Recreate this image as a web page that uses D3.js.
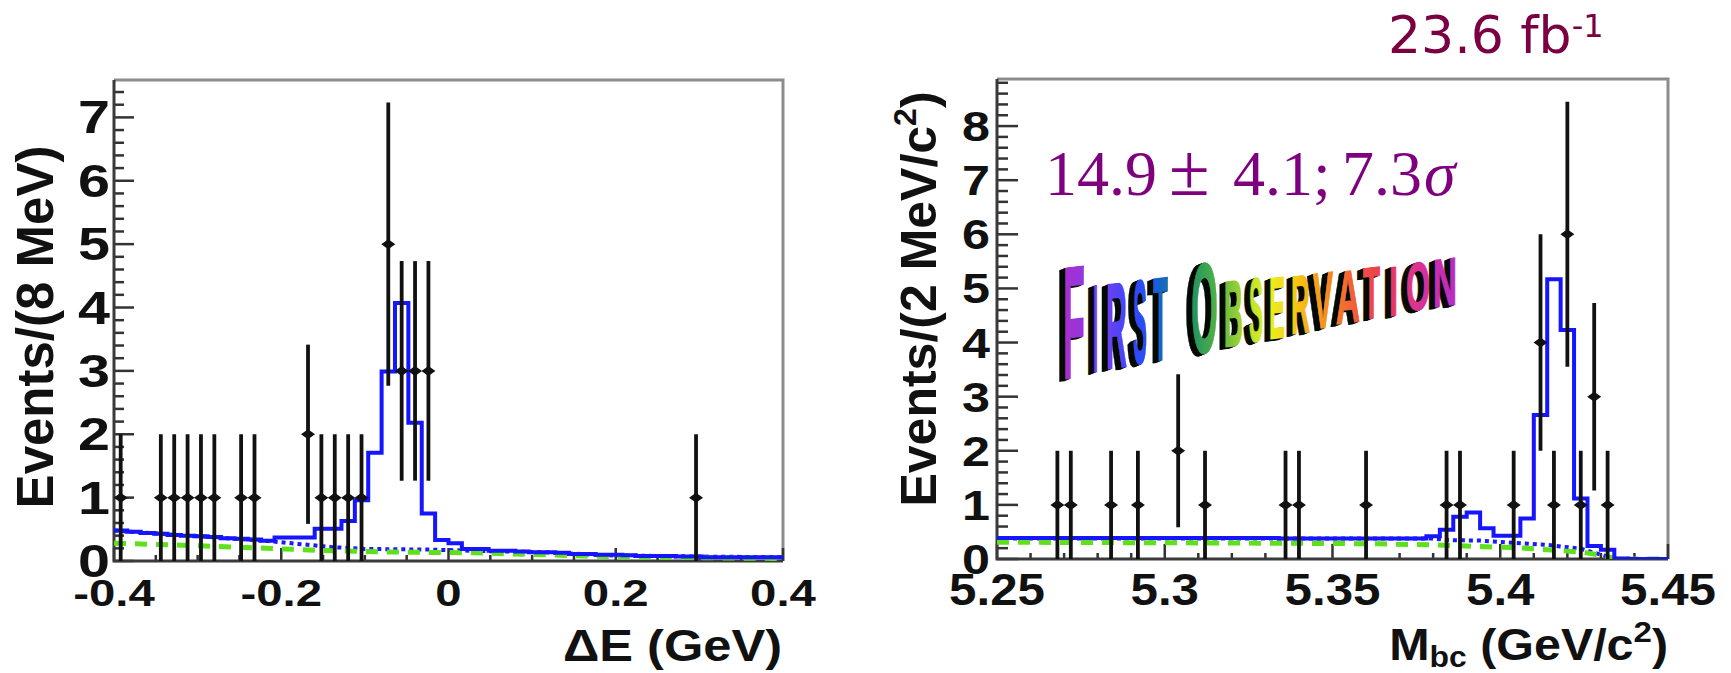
<!DOCTYPE html>
<html>
<head>
<meta charset="utf-8">
<script src="https://cdn.jsdelivr.net/npm/d3@7"></script>
<style>
  body { margin: 0; background: #fff; }
  svg { display: block; }
</style>
</head>
<body>
<svg id="chart" width="1731" height="673"></svg>
<script>
// ---------------- ΔE distribution (16 MeV binning) ----------------
const deBinLow = -0.4, deBinWidth = 0.016;
const deCenters = [-0.392, -0.344, -0.328, -0.312, -0.296, -0.280, -0.248, -0.232,
                   -0.168, -0.152, -0.136, -0.120, -0.104, -0.072, -0.056, -0.040, -0.024, 0.296];
const deCounts  = [1, 1, 1, 1, 1, 1, 1, 1, 2, 1, 1, 1, 1, 5, 3, 3, 3, 1];
// total fit, one value per bin
const deFit = [0.48, 0.46, 0.44, 0.43, 0.41, 0.40, 0.39, 0.38, 0.36, 0.35,
               0.34, 0.32, 0.37, 0.37, 0.37, 0.51, 0.51, 0.63, 0.96, 1.71,
               2.99, 4.07, 2.18, 0.75, 0.33, 0.28, 0.19, 0.19, 0.16, 0.16,
               0.15, 0.14, 0.14, 0.13, 0.11, 0.11, 0.10, 0.10, 0.09, 0.08,
               0.08, 0.08, 0.07, 0.07, 0.06, 0.06, 0.06, 0.06, 0.06, 0.06];
// total background (dotted) and continuum (dashed)
const deBkgX  = [-0.4, -0.3, -0.22, -0.18, -0.14, -0.10, -0.02, 0.03, 0.11, 0.19, 0.30, 0.40];
const deBkgY  = [0.48, 0.39, 0.32, 0.27, 0.22, 0.19, 0.18, 0.16, 0.14, 0.09, 0.07, 0.06];
const deContX = [-0.4, -0.297, -0.217, -0.138, -0.058, 0.029, 0.189, 0.388, 0.4];
const deContY = [0.28, 0.24, 0.20, 0.16, 0.14, 0.13, 0.07, 0.04, 0.04];
const deTicks = [-0.4, -0.2, 0, 0.2, 0.4];
const deTickLabels = ["-0.4", "-0.2", "0", "0.2", "0.4"];

// ---------------- Mbc distribution (4 MeV/c^2 binning) ----------------
const mbcBinLow = 5.25, mbcBinWidth = 0.004;
const mbcCenters = [5.268, 5.272, 5.284, 5.292, 5.304, 5.312, 5.336, 5.340, 5.360,
                    5.384, 5.388, 5.404, 5.412, 5.416, 5.420, 5.424, 5.428, 5.432];
const mbcCounts  = [1, 1, 1, 1, 2, 1, 1, 1, 1, 1, 1, 1, 4, 1, 6, 1, 3, 1];
const mbcFit = [0.39, 0.39, 0.39, 0.39, 0.39, 0.39, 0.39, 0.39, 0.39, 0.39,
                0.39, 0.39, 0.39, 0.39, 0.39, 0.39, 0.39, 0.39, 0.39, 0.39,
                0.39, 0.38, 0.38, 0.38, 0.38, 0.38, 0.38, 0.38, 0.38, 0.38,
                0.38, 0.38, 0.42, 0.54, 0.78, 0.86, 0.57, 0.43, 0.43, 0.75,
                2.66, 5.17, 4.23, 1.12, 0.24, 0.17, 0.01, 0.0, 0.0, 0.0];
const mbcBkgX  = [5.25, 5.38, 5.384, 5.394, 5.404, 5.414, 5.424, 5.430, 5.434, 5.436, 5.45];
const mbcBkgY  = [0.38, 0.38, 0.35, 0.34, 0.30, 0.26, 0.19, 0.08, 0.01, 0.0, 0.0];
const mbcContX = [5.25, 5.30, 5.34, 5.364, 5.38, 5.394, 5.405, 5.414, 5.424, 5.430, 5.434, 5.436, 5.45];
const mbcContY = [0.31, 0.30, 0.29, 0.28, 0.26, 0.23, 0.21, 0.17, 0.13, 0.07, 0.01, 0.0, 0.0];
const mbcTicks = [5.25, 5.30, 5.35, 5.40, 5.45];
const mbcTickLabels = ["5.25", "5.3", "5.35", "5.4", "5.45"];

const svg = d3.select("#chart");
const SANS = "'Liberation Sans', Arial, Helvetica, sans-serif";

function drawPanel(p) {
  const x = d3.scaleLinear().domain(p.xDomain).range([p.left, p.right]);
  const y = d3.scaleLinear().domain(p.yDomain).range([p.bottom, p.top]);
  const g = svg.append("g");
  const clipId = "clip" + p.id;
  g.append("clipPath").attr("id", clipId).append("rect")
    .attr("x", p.left).attr("y", p.top)
    .attr("width", p.right - p.left).attr("height", p.bottom - p.top);

  // frame (top and right in grey)
  g.append("path")
    .attr("d", `M${p.left},${p.top}H${p.right}V${p.bottom}`)
    .attr("fill", "none").attr("stroke", "#8c8c8c").attr("stroke-width", 3);

  // minor / major ticks, pointing inwards
  const tickCol = "#333";
  const yMinor = d3.range(p.yDomain[0], p.yDomain[1] + 1e-9, 0.2);
  g.selectAll(".ymin").data(yMinor).join("line")
    .attr("x1", p.left).attr("x2", d => Math.abs(d - Math.round(d)) < 1e-6 ? p.left + p.yMajorLen : p.left + p.yMinorLen)
    .attr("y1", d => y(d)).attr("y2", d => y(d))
    .attr("stroke", tickCol).attr("stroke-width", 2.5);
  const xMinor = d3.range(p.xDomain[0], p.xDomain[1] + 1e-9, p.xMinorStep);
  const isMajorX = d => p.xTicks.some(t => Math.abs(t - d) < 1e-6);
  g.selectAll(".xmin").data(xMinor).join("line")
    .attr("x1", d => x(d)).attr("x2", d => x(d))
    .attr("y1", p.bottom).attr("y2", d => isMajorX(d) ? p.bottom - p.xMajorLen : p.bottom - p.xMinorLen)
    .attr("stroke", tickCol).attr("stroke-width", 2.5);

  // axis lines
  g.append("path")
    .attr("d", `M${p.left},${p.top}V${p.bottom}H${p.right}`)
    .attr("fill", "none").attr("stroke", "#3a3a3a").attr("stroke-width", 3);

  // tick labels
  g.selectAll(".xl").data(p.xTicks).join("text")
    .attr("transform", d => `translate(${x(d)},${p.xLabelBase}) scale(${p.xLabelSx},1)`)
    .attr("text-anchor", "middle")
    .attr("font-family", SANS).attr("font-weight", "bold")
    .attr("font-size", p.xLabelSize).attr("fill", "#111")
    .text((d, i) => p.xTickLabels[i]);
  const yInts = d3.range(0, Math.floor(p.yDomain[1]) + 1);
  g.selectAll(".yl").data(yInts).join("text")
    .attr("transform", d => `translate(${p.yLabelRight},${y(d) + p.yLabelShift}) scale(${p.yLabelSx},1)`)
    .attr("text-anchor", "end")
    .attr("font-family", SANS).attr("font-weight", "bold")
    .attr("font-size", p.yLabelSize).attr("fill", "#111")
    .text(d => d);

  const plot = g.append("g").attr("clip-path", `url(#${clipId})`);

  // total background (dotted) and continuum (dashed)
  const line = d3.line().x(d => x(d[0])).y(d => y(d[1]));
  plot.append("path")
    .attr("d", line(p.bkgX.map((v, i) => [v, p.bkgY[i]])))
    .attr("fill", "none").attr("stroke", "#1a1aff").attr("stroke-width", 4)
    .attr("stroke-dasharray", "4,4");
  plot.append("path")
    .attr("d", line(p.contX.map((v, i) => [v, p.contY[i]])))
    .attr("fill", "none").attr("stroke", "#5ee01a").attr("stroke-width", 5)
    .attr("stroke-dasharray", "12,9");

  // total fit as histogram
  const pts = p.fit.map((v, i) => [p.binLow + i * p.binWidth, v]);
  pts.push([p.binLow + p.fit.length * p.binWidth, p.fit[p.fit.length - 1]]);
  plot.append("path")
    .attr("d", d3.line().x(d => x(d[0])).y(d => y(d[1])).curve(d3.curveStepAfter)(pts))
    .attr("fill", "none").attr("stroke", "#1515ff").attr("stroke-width", 4);

  // data with statistical errors
  const data = p.centers.map((c, i) => ({ c, n: p.counts[i], e: Math.sqrt(p.counts[i]) }));
  plot.selectAll(".eb").data(data).join("line")
    .attr("x1", d => x(d.c)).attr("x2", d => x(d.c))
    .attr("y1", d => y(d.n - d.e)).attr("y2", d => y(d.n + d.e))
    .attr("stroke", "#111").attr("stroke-width", 3.8);
  plot.selectAll(".mk").data(data).join("path")
    .attr("d", d => { const cx = x(d.c), cy = y(d.n);
      return `M${cx - 7},${cy}L${cx},${cy - 5}L${cx + 7},${cy}L${cx},${cy + 5}Z`; })
    .attr("fill", "#111");

  return { x, y };
}

// ΔE panel
drawPanel({
  id: "de", xDomain: [-0.4, 0.4], yDomain: [0, 7.59],
  left: 114, right: 783, top: 80, bottom: 561,
  xTicks: deTicks, xTickLabels: deTickLabels, xMinorStep: 0.05,
  xMajorLen: 13, xMinorLen: 6, yMajorLen: 20, yMinorLen: 10,
  xLabelBase: 606, xLabelSize: 37, xLabelSx: 1.28,
  yLabelRight: 110, yLabelShift: 16, yLabelSize: 46, yLabelSx: 1.25,
  binLow: deBinLow, binWidth: deBinWidth, fit: deFit,
  bkgX: deBkgX, bkgY: deBkgY, contX: deContX, contY: deContY,
  centers: deCenters, counts: deCounts
});

// Mbc panel
drawPanel({
  id: "mbc", xDomain: [5.25, 5.45], yDomain: [0, 8.87],
  left: 997, right: 1668, top: 79, bottom: 559,
  xTicks: mbcTicks, xTickLabels: mbcTickLabels, xMinorStep: 0.01,
  xMajorLen: 15, xMinorLen: 6, yMajorLen: 21, yMinorLen: 11,
  xLabelBase: 605, xLabelSize: 44, xLabelSx: 1.12,
  yLabelRight: 990, yLabelShift: 15, yLabelSize: 43, yLabelSx: 1.17,
  binLow: mbcBinLow, binWidth: mbcBinWidth, fit: mbcFit,
  bkgX: mbcBkgX, bkgY: mbcBkgY, contX: mbcContX, contY: mbcContY,
  centers: mbcCenters, counts: mbcCounts
});

// ---------------- axis titles ----------------
svg.append("text")
  .attr("transform", "translate(53,327) rotate(-90)")
  .attr("text-anchor", "middle")
  .attr("font-family", SANS).attr("font-weight", "bold").attr("font-size", 51).attr("fill", "#111")
  .text("Events/(8 MeV)");

const yt2 = svg.append("text")
  .attr("transform", "translate(936,299) rotate(-90)")
  .attr("text-anchor", "middle")
  .attr("font-family", SANS).attr("font-weight", "bold").attr("font-size", 50).attr("fill", "#111");
yt2.append("tspan").text("Events/(2 MeV/c");
yt2.append("tspan").attr("font-size", 32).attr("dy", -20).text("2");
yt2.append("tspan").attr("dy", 20).text(")");

svg.append("text")
  .attr("transform", "translate(782,661) scale(1.15,1)")
  .attr("text-anchor", "end")
  .attr("font-family", SANS).attr("font-weight", "bold").attr("font-size", 44).attr("fill", "#111")
  .text("ΔE (GeV)");

const xt2 = svg.append("text")
  .attr("transform", "translate(1668,660) scale(1.1,1)")
  .attr("text-anchor", "end")
  .attr("font-family", SANS).attr("font-weight", "bold").attr("font-size", 44).attr("fill", "#111");
xt2.append("tspan").text("M");
xt2.append("tspan").attr("font-size", 29).attr("dy", 7).text("bc");
xt2.append("tspan").attr("dy", -7).text(" (GeV/c");
xt2.append("tspan").attr("font-size", 30).attr("dy", -18).text("2");
xt2.append("tspan").attr("dy", 18).text(")");

// ---------------- yield and significance ----------------
const SERIF = "'Liberation Serif', 'DejaVu Serif', serif";
const res = svg.append("g").attr("fill", "#7f007f").attr("font-family", SERIF);
res.append("text").attr("x", 1045).attr("y", 195).attr("font-size", 64).text("14.9");
res.append("text").attr("x", 1169).attr("y", 195).attr("font-size", 74).text("±");
res.append("text").attr("x", 1233).attr("y", 195).attr("font-size", 64).text("4.1;");
res.append("text").attr("x", 1342).attr("y", 195).attr("font-size", 64).text("7.3");
res.append("text").attr("x", 1424).attr("y", 195).attr("font-size", 64).attr("font-style", "italic").text("σ");

// integrated luminosity
const lum = svg.append("text")
  .attr("x", 1388).attr("y", 53)
  .attr("font-family", "'Comic Sans MS', 'DejaVu Sans', sans-serif").attr("font-size", 52)
  .attr("fill", "#7a0042");
lum.append("tspan").text("23.6 fb");
lum.append("tspan").attr("font-size", 32).attr("dy", -16).text("-1");

// ---------------- "FIRST OBSERVATION" banner ----------------
(function banner() {
  const letters = [
    ["F", 1057, 1085, 265, 380], ["I", 1087, 1098, 285, 373], ["R", 1100, 1127, 282, 370],
    ["S", 1127, 1147, 280, 365], ["T", 1147, 1168, 277, 362],
    ["O", 1185, 1218, 262, 355], ["B", 1218, 1243, 280, 348], ["S", 1243, 1263, 278, 343],
    ["E", 1263, 1285, 277, 340], ["R", 1285, 1310, 275, 335], ["V", 1307, 1333, 272, 330],
    ["A", 1330, 1360, 270, 325], ["T", 1357, 1380, 267, 320], ["I", 1383, 1398, 267, 317],
    ["O", 1400, 1430, 262, 312], ["N", 1427, 1457, 258, 308]
  ];
  const stopX = [1057, 1092, 1113, 1137, 1158, 1185, 1210, 1230, 1253, 1274, 1297, 1320, 1345, 1368, 1390, 1415, 1442, 1457];
  const stopC = ["#b02cc8", "#8a3ae6", "#5f45f5", "#2f45ff", "#1460d8", "#168a6a", "#3aa84a", "#7cc43a",
                 "#c8e62a", "#f4f01c", "#f8c40e", "#f89a1a", "#f26a2e", "#f04848", "#e8385c", "#e2348e",
                 "#c42cb8", "#b82cc0"];
  const col = d3.scaleLinear().domain(stopX).range(stopC).clamp(true);
  const defs = svg.append("defs");
  const slope = -0.12, depth = 6, capRatio = 0.70;
  const gb = svg.append("g");
  letters.forEach(([ch, x0, x1, top, bot], i) => {
    const fx0 = x0 + depth, w = x1 - fx0;
    const h = (bot - top) - Math.abs(slope) * w;
    const gid = "wa" + i;
    const lg = defs.append("linearGradient").attr("id", gid).attr("x1", 0).attr("x2", 1).attr("y1", 0).attr("y2", 0);
    lg.append("stop").attr("offset", 0).attr("stop-color", col(fx0));
    lg.append("stop").attr("offset", 1).attr("stop-color", col(x1));
    const fs = h / capRatio;
    const lt = gb.append("g").attr("transform", `translate(${fx0},${bot - 1}) skewY(${Math.atan(slope) * 180 / Math.PI})`);
    for (let k = depth; k >= 1; k--) {
      lt.append("text").attr("x", -k).attr("y", k * 0.3)
        .attr("font-family", SANS).attr("font-weight", "bold").attr("font-size", fs)
        .attr("textLength", w).attr("lengthAdjust", "spacingAndGlyphs")
        .attr("fill", "#040a04").attr("stroke", "#040a04").attr("stroke-width", 1.2).text(ch);
    }
    lt.append("text").attr("x", 0).attr("y", 0)
      .attr("font-family", SANS).attr("font-weight", "bold").attr("font-size", fs)
      .attr("textLength", w).attr("lengthAdjust", "spacingAndGlyphs")
      .attr("fill", `url(#${gid})`).attr("stroke", `url(#${gid})`).attr("stroke-width", 1.4).text(ch);
  });
})();
</script>
</body>
</html>
